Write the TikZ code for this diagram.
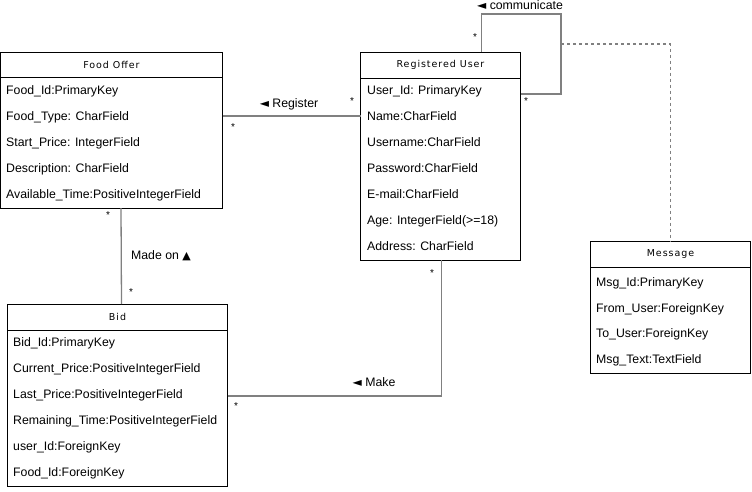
\documentclass[tikz,border=0pt]{standalone}
\usepackage{fontspec}
\setmainfont{Liberation Sans}
\newfontfamily\hdrfont[LetterSpace=10]{DejaVu Sans}
\newfontfamily\symfont{DejaVu Sans}
\begin{document}
\begin{tikzpicture}[x=1pt,y=-1pt,
  box/.style={draw=black,line width=1pt,anchor=north west,inner sep=0pt,outer sep=0pt},
  hdr/.style={font=\hdrfont\fontsize{9.5}{11}\selectfont,inner sep=0pt},
  attr/.style={anchor=base west,inner sep=0pt,font=\fontsize{12.3}{14}\selectfont},
  lbl/.style={inner sep=0pt,font=\fontsize{12.3}{14}\selectfont},
  mult/.style={inner sep=0pt,font=\fontsize{10}{12}\selectfont},
  conn/.style={draw=black!50,line width=1.3pt},
  dconn/.style={draw=black!50,line width=1.3pt,dash pattern=on 3pt off 3pt}]
\useasboundingbox (0,0) rectangle (752,491);
% Food Offer
\node[box,minimum width=222pt,minimum height=156pt] (fo) at (0.5,52) {};
\draw[line width=1pt] ([yshift=-25pt]fo.north west) -- ([yshift=-25pt]fo.north east);
\node[hdr] (foh) at ([yshift=-12.5pt]fo.north) {Food Offer};
\node[attr] (fo1) at (6,94) {Food\_Id:PrimaryKey};
\node[attr] (fo2) at (6,120) {Food\_Type: CharField};
\node[attr] (fo3) at (6,146) {Start\_Price: IntegerField};
\node[attr] (fo4) at (6,172) {Description: CharField};
\node[attr] (fo5) at (6,198) {Available\_Time:PositiveIntegerField};
% Registered User
\node[box,minimum width=160pt,minimum height=208pt] (ru) at (360.5,52) {};
\draw[line width=1pt] ([yshift=-26pt]ru.north west) -- ([yshift=-26pt]ru.north east);
\node[hdr] (ruh) at ([yshift=-13pt]ru.north) {Registered User};
\node[attr] (ru1) at (367,94) {User\_Id: PrimaryKey};
\node[attr] (ru2) at (367,120) {Name:CharField};
\node[attr] (ru3) at (367,146) {Username:CharField};
\node[attr] (ru4) at (367,172) {Password:CharField};
\node[attr] (ru5) at (367,198) {E-mail:CharField};
\node[attr] (ru6) at (367,224) {Age: IntegerField(>=18)};
\node[attr] (ru7) at (367,250) {Address: CharField};
% Message
\node[box,minimum width=160pt,minimum height=132pt] (msg) at (590.5,241) {};
\draw[line width=1pt] ([yshift=-26pt]msg.north west) -- ([yshift=-26pt]msg.north east);
\node[hdr] (msgh) at ([yshift=-13pt]msg.north) {Message};
\node[attr] (m1) at (596,286) {Msg\_Id:PrimaryKey};
\node[attr] (m2) at (596,312) {From\_User:ForeignKey};
\node[attr] (m3) at (596,337) {To\_User:ForeignKey};
\node[attr] (m4) at (596,363) {Msg\_Text:TextField};
% Bid
\node[box,minimum width=220pt,minimum height=182pt] (bid) at (7.5,304) {};
\draw[line width=1pt] ([yshift=-26pt]bid.north west) -- ([yshift=-26pt]bid.north east);
\node[hdr] (bidh) at ([yshift=-13pt]bid.north) {Bid};
\node[attr] (b1) at (13,346) {Bid\_Id:PrimaryKey};
\node[attr] (b2) at (13,372) {Current\_Price:PositiveIntegerField};
\node[attr] (b3) at (13,398) {Last\_Price:PositiveIntegerField};
\node[attr] (b4) at (13,424) {Remaining\_Time:PositiveIntegerField};
\node[attr] (b5) at (13,450) {user\_Id:ForeignKey};
\node[attr] (b6) at (13,476) {Food\_Id:ForeignKey};
% connectors
\draw[conn] ([yshift=14pt]fo.east) -- ([yshift=40pt]ru.west);
\node[lbl] (lreg) at (289,104) {{\symfont\fontsize{12}{14}\selectfont ◄} Register};
\node[mult] at (233,127) {*};
\node[mult] at (352,101) {*};
\draw[conn] ([xshift=9.5pt]fo.south) -- ([xshift=4pt]bid.north);
\node[lbl] (lmade) at (161,256) {Made on {\symfont\fontsize{11}{14}\selectfont ▲}};
\node[mult] at (108,215) {*};
\node[mult] at (131,292) {*};
\draw[conn] ([yshift=-1pt]bid.east) -| ([xshift=1pt]ru.south);
\node[lbl] (lmake) at (374,382) {{\symfont\fontsize{12}{14}\selectfont ◄} Make};
\node[mult] at (236,406) {*};
\node[mult] at (432,273) {*};
\coordinate (c1) at (561,14);
\draw[conn] ([xshift=41pt]ru.north) |- (c1) |- ([yshift=-42pt]ru.north east);
\node[lbl] (lcom) at (520,5) {{\symfont\fontsize{12}{14}\selectfont ◄} communicate};
\node[mult] at (475,37) {*};
\node[mult] at (526,101) {*};
\coordinate (d1) at (561,44);
\draw[dconn] (d1) -| (msg.north);
\end{tikzpicture}
\end{document}
